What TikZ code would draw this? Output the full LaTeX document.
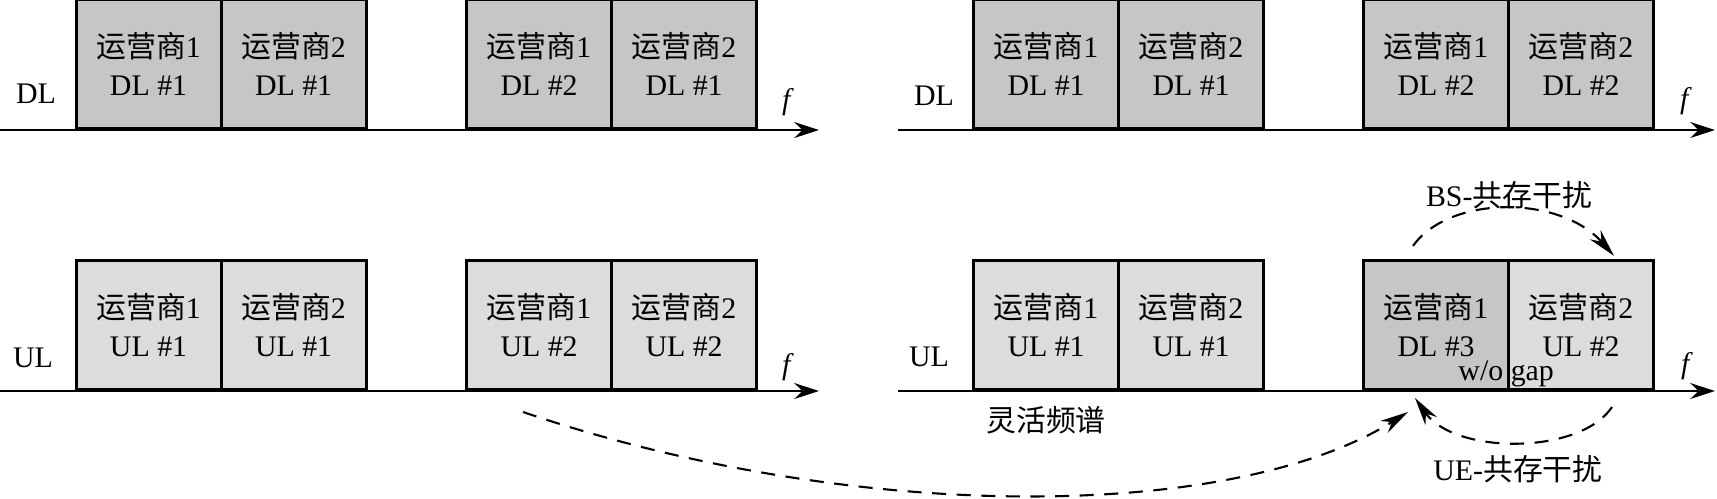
\documentclass[tikz,border=0pt]{standalone}
\usepackage{fontspec}
\setmainfont{Liberation Serif}
\newfontfamily\cjk{Noto Sans CJK SC}
\usepackage{tikz}
\usetikzlibrary{calc,arrows.meta}
\usepackage{xcolor}
\definecolor{dlgray}{RGB}{198,198,198}
\definecolor{ulgray}{RGB}{220,220,220}

\tikzset{
  band/.style={draw, line width=0.9pt, minimum width=1.45cm, minimum height=1.29cm,
    inner sep=0pt, align=center, anchor=south west},
  dlband/.style={band, fill=dlgray},
  ulband/.style={band, fill=ulgray},
  faxis/.style={line width=0.8pt, -{Stealth[length=7pt,width=4.5pt]}},
  coex/.style={line width=0.6pt, dash pattern=on 4pt off 3pt, -{Stealth[length=8pt,width=4pt]}},
}

\begin{document}
\begin{tikzpicture}[font=\fontsize{8.5}{11}\selectfont]
  \useasboundingbox (0,0) rectangle (17.17,4.98);

  % Frequency axes
  \coordinate (la0) at (0,3.68);    \coordinate (la1) at (8.19,3.68);
  \coordinate (lb0) at (0,1.07);    \coordinate (lb1) at (8.19,1.07);
  \coordinate (ra0) at (8.98,3.68); \coordinate (ra1) at (17.15,3.68);
  \coordinate (rb0) at (8.98,1.07); \coordinate (rb1) at (17.15,1.07);
  \draw[faxis] (la0) -- (la1);
  \draw[faxis] (lb0) -- (lb1);
  \draw[faxis] (ra0) -- (ra1);
  \draw[faxis] (rb0) -- (rb1);

  % Downlink bands
  \foreach \nm/\x/\op/\bd in {ld1/0.745/1/DL \#1, ld2/2.195/2/DL \#1, ld3/4.65/1/DL \#2, ld4/6.10/2/DL \#1,
                              rd1/9.72/1/DL \#1, rd2/11.17/2/DL \#1, rd3/13.62/1/DL \#2, rd4/15.07/2/DL \#2} {
    \node[dlband] (\nm) at (\x,3.68) {{\cjk 运营商}\op\\\bd};
  }

  % Uplink bands
  \foreach \nm/\x/\op/\bd in {lu1/0.745/1/UL \#1, lu2/2.195/2/UL \#1, lu3/4.65/1/UL \#2, lu4/6.10/2/UL \#2,
                              ru1/9.72/1/UL \#1, ru2/11.17/2/UL \#1, ru4/15.07/2/UL \#2} {
    \node[ulband] (\nm) at (\x,1.07) {{\cjk 运营商}\op\\\bd};
  }
  \node[dlband] (ru3) at (13.62,1.07) {{\cjk 运营商}1\\DL \#3};

  % Axis labels
  \node (ldl) at (0.36,4.04) {DL};
  \node (lul) at (0.33,1.40) {UL};
  \node (rdl) at (9.34,4.02) {DL};
  \node (rul) at (9.29,1.41) {UL};
  \node (lfd) at (7.88,3.96) {\textit{f}};
  \node (lfu) at (7.88,1.31) {\textit{f}};
  \node (rfd) at (16.86,3.97) {\textit{f}};
  \node (rfu) at (16.87,1.32) {\textit{f}};

  \node[anchor=base, inner sep=0pt] (gap) at ($(ru3.south east)+(-0.04,0.11)$) {w/o gap};
  \node (flex) at (10.46,0.78) {\cjk 灵活频谱};
  \node (bslbl) at (15.09,3.03) {BS-{\cjk 共存干扰}};
  \node (uelbl) at (15.18,0.29) {UE-{\cjk 共存干扰}};

  % Coexistence interference
  \coordinate (bsS) at ($(ru3.north west)+(0.51,0.13)$);
  \coordinate (bsE) at ($(ru4.north west)+(1.07,0.03)$);
  \coordinate (ueS) at ($(ru4.south west)+(1.05,-0.16)$);
  \coordinate (ueE) at ($(ru3.south west)+(0.53,-0.07)$);
  \coordinate (mvS) at ($(lu3.south west)+(0.58,-0.21)$);
  \coordinate (mvE) at ($(ru3.south west)+(0.46,-0.21)$);
  \draw[coex] (bsS) .. controls +(0.37,0.51) and +(-0.54,0.61) .. (bsE);
  \draw[coex] (ueS) .. controls +(-0.32,-0.48) and +(0.40,-0.57) .. (ueE);
  \draw[coex] (mvS) .. controls +(3.27,-1.11) and +(-1.78,-1.11) .. (mvE);
\end{tikzpicture}
\end{document}
